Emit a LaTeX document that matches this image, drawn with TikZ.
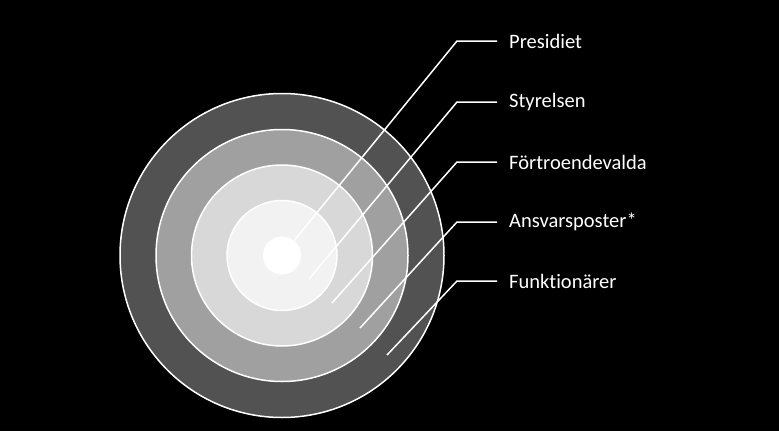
\documentclass[tikz,border=0pt]{standalone}
\usepackage{fontspec}
\setmainfont{Carlito}[Ligatures=NoCommon]
\usepackage{tikz}
\usetikzlibrary{positioning}
\definecolor{ringdark}{RGB}{82,82,82}
\definecolor{ringmid}{RGB}{160,160,160}
\definecolor{ringlight}{RGB}{216,216,216}
\definecolor{ringpale}{RGB}{242,242,242}

\begin{document}
\begin{tikzpicture}[x=1pt, y=-1pt,
  ring/.style={draw=white, line width=1.5pt},
  leader/.style={draw=white, line width=1.5pt},
  lbl/.style={anchor=west, text=white, inner xsep=12pt, inner ysep=0pt,
    font=\fontsize{20.5}{23}\selectfont}]

  % Background
  \fill[black] (0,0) rectangle (779,431);
  \useasboundingbox (0,0) rectangle (779,431);

  % ========== RINGS ==========
  \coordinate (centre) at (282,255.5);
  \fill[ringdark, ring] (centre) circle (162);
  \fill[ringmid, ring] (centre) circle (126);
  \fill[ringlight, ring] (centre) circle (90.5);
  \fill[ringpale, ring] (centre) circle (55);
  \fill[white] (centre) circle (19);

  % ========== LABELS ==========
  \node[lbl] (presidiet) at (497,41) {Presidiet};
  \node[lbl] (styrelsen) at (497,102) {Styrelsen};
  \node[lbl] (fortroende) at (497,162) {Förtroendevalda};
  \node[lbl] (ansvar) at (497,222) {Ansvarsposter*};
  \node[lbl] (funktion) at (497,281) {Funktionärer};

  % Leader ends inside the rings
  \coordinate (presidiet end) at (293,242);
  \coordinate (styrelsen end) at (309,279);
  \coordinate (fortroende end) at (332,303);
  \coordinate (ansvar end) at (360,328);
  \coordinate (funktion end) at (387,355);

  % Leaders
  \foreach \n in {presidiet, styrelsen, fortroende, ansvar, funktion}{
    \draw[leader] (\n\space end) -- (457,0 |- \n.west) -- (\n.west);
  }

\end{tikzpicture}
\end{document}
